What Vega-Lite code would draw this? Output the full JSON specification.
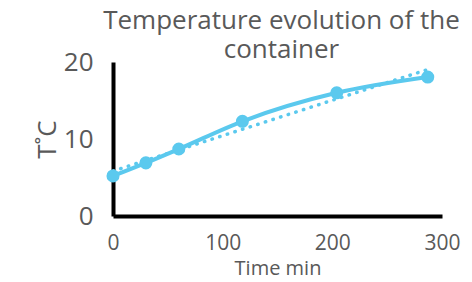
{
  "$schema": "https://vega.github.io/schema/vega-lite/v6.json",
  "width": 329,
  "height": 154,
  "autosize": "none",
  "padding": {"left": 113, "top": 62, "right": 30, "bottom": 66},
  "background": "white",
  "config": {"view": {"stroke": null}, "font": "Open Sans"},
  "title": {
    "text": ["Temperature evolution of the", "container"],
    "fontSize": 26,
    "fontWeight": "normal",
    "color": "#595959",
    "lineHeight": 29,
    "anchor": "middle",
    "dx": 4,
    "offset": -14
  },
  "data": {
    "values": [
      {"t": 0, "T": 5.2},
      {"t": 30, "T": 6.9},
      {"t": 60, "T": 8.7},
      {"t": 118, "T": 12.3},
      {"t": 204, "T": 16.0},
      {"t": 287, "T": 18.05}
    ]
  },
  "encoding": {
    "x": {
      "field": "t", "type": "quantitative",
      "scale": {"domain": [0, 300], "nice": false, "zero": true},
      "axis": {
        "title": "Time min", "values": [0, 100, 200, 300], "grid": false, "ticks": false,
        "domainColor": "black", "domainWidth": 4, "labelFontSize": 21, "labelColor": "#595959",
        "labelPadding": 16, "titleFontSize": 20, "titleFontWeight": "normal", "titleColor": "#595959",
        "titlePadding": 5, "labelFlush": false
      }
    },
    "y": {
      "field": "T", "type": "quantitative",
      "scale": {"domain": [0, 20], "nice": false},
      "axis": {
        "title": "T˚C", "values": [0, 10, 20], "grid": false, "ticks": false,
        "domainColor": "black", "domainWidth": 4, "labelFontSize": 26, "labelColor": "#595959",
        "labelPadding": 20, "titleFontSize": 26, "titleFontWeight": "normal", "titleColor": "#595959",
        "titlePadding": 3
      }
    }
  },
  "layer": [
    {
      "transform": [{"regression": "T", "on": "t"}],
      "mark": {"type": "line", "color": "#5BC9EE", "strokeWidth": 3.5, "strokeDash": [0.5, 7.5], "strokeCap": "round"}
    },
    {
      "mark": {"type": "line", "color": "#5BC9EE", "strokeWidth": 4, "interpolate": "monotone"}
    },
    {
      "mark": {"type": "point", "filled": true, "opacity": 1, "color": "#5BC9EE", "size": 170}
    }
  ]
}
